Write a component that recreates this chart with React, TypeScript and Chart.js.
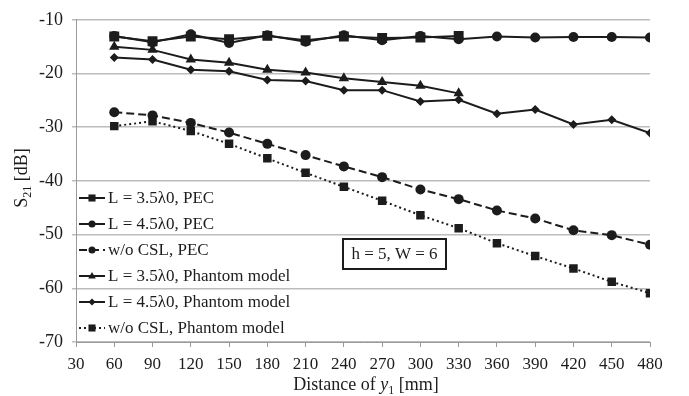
import React, { useEffect, useRef } from "react";
import { Chart, registerables } from "chart.js";
Chart.register(...registerables);

const distShort = [60, 90, 120, 150, 180, 210, 240, 270, 300, 330];
const distLong = [60, 90, 120, 150, 180, 210, 240, 270, 300, 330, 360, 390, 420, 450, 480];
const pecL35 = [-13.1, -14.0, -13.1, -13.6, -13.0, -13.8, -13.1, -13.4, -13.3, -13.0];
const pecL45 = [-13.0, -14.2, -12.7, -14.3, -12.9, -14.1, -12.9, -13.8, -13.0, -13.6, -13.1, -13.3, -13.2, -13.2, -13.3];
const pecNoCsl = [-27.2, -27.8, -29.2, -31.0, -33.1, -35.2, -37.3, -39.3, -41.6, -43.4, -45.5, -47.0, -49.2, -50.1, -51.9];
const phL35 = [-15.0, -15.6, -17.4, -18.0, -19.3, -19.8, -20.9, -21.6, -22.3, -23.7];
const phL45 = [-17.0, -17.4, -19.3, -19.6, -21.2, -21.4, -23.1, -23.1, -25.2, -24.9, -27.5, -26.7, -29.5, -28.6, -31.1];
const phNoCsl = [-29.8, -28.9, -30.7, -33.1, -35.8, -38.5, -41.1, -43.7, -46.4, -48.8, -51.6, -54.0, -56.3, -58.8, -60.9];
const seriesLabels = [
  "L = 3.5λ0, PEC",
  "L = 4.5λ0, PEC",
  "w/o CSL, PEC",
  "L = 3.5λ0, Phantom model",
  "L = 4.5λ0, Phantom model",
  "w/o CSL, Phantom model",
];
const boxText = "h = 5, W = 6";

const SERIF = '"Liberation Serif", "Times New Roman", serif';
const INK = "#1c1c1c";

function pts(xs: number[], ys: number[]) {
  return xs.map((x, i) => ({ x, y: ys[i] }));
}

function drawMarker(ctx: CanvasRenderingContext2D, style: string, x: number, y: number, r: number) {
  ctx.beginPath();
  if (style === "rect") {
    const s = r * Math.SQRT1_2;
    ctx.rect(x - s, y - s, 2 * s, 2 * s);
  } else if (style === "circle") {
    ctx.arc(x, y, r, 0, Math.PI * 2);
  } else if (style === "triangle") {
    ctx.moveTo(x, y - r);
    ctx.lineTo(x + r * 0.95, y + r * 0.6);
    ctx.lineTo(x - r * 0.95, y + r * 0.6);
    ctx.closePath();
  } else if (style === "rectRot") {
    ctx.moveTo(x, y - r);
    ctx.lineTo(x + r, y);
    ctx.lineTo(x, y + r);
    ctx.lineTo(x - r, y);
    ctx.closePath();
  }
  ctx.fill();
}

const overlay = {
  id: "overlay",
  afterDatasetsDraw(chart: any) {
    const ctx: CanvasRenderingContext2D = chart.ctx;
    const ca = chart.chartArea;
    ctx.save();
    // legend
    const legendTop = 198;
    const step = 26;
    chart.data.datasets.forEach((ds: any, i: number) => {
      const y = legendTop + i * step;
      ctx.strokeStyle = INK;
      ctx.fillStyle = INK;
      ctx.lineWidth = 2;
      ctx.setLineDash(ds.borderDash || []);
      ctx.beginPath();
      ctx.moveTo(ca.left + 3, y);
      ctx.lineTo(ca.left + 29, y);
      ctx.stroke();
      ctx.setLineDash([]);
      drawMarker(ctx, ds.pointStyle, ca.left + 16, y, ds.legendRadius);
      ctx.font = `17px ${SERIF}`;
      ctx.textBaseline = "middle";
      ctx.textAlign = "left";
      ctx.fillText(seriesLabels[i], ca.left + 32, y + 1);
    });
    // annotation box
    const bx = 343, by = 239, bw = 103, bh = 30;
    ctx.lineWidth = 2;
    ctx.strokeStyle = INK;
    ctx.fillStyle = "#fff";
    ctx.fillRect(bx, by, bw, bh);
    ctx.strokeRect(bx, by, bw, bh);
    ctx.fillStyle = INK;
    ctx.font = `17px ${SERIF}`;
    ctx.textAlign = "center";
    ctx.textBaseline = "middle";
    ctx.fillText(boxText, bx + bw / 2, by + bh / 2 + 1);

    // y title
    ctx.save();
    ctx.translate(21, 178);
    ctx.rotate(-Math.PI / 2);
    ctx.textBaseline = "alphabetic";
    ctx.textAlign = "left";
    const p1 = "S", p2 = "21", p3 = " [dB]";
    ctx.font = `18px ${SERIF}`;
    const w1 = ctx.measureText(p1).width;
    const w3 = ctx.measureText(p3).width;
    ctx.font = `12px ${SERIF}`;
    const w2 = ctx.measureText(p2).width;
    const tot = w1 + w2 + w3;
    let cx = -tot / 2;
    ctx.font = `18px ${SERIF}`;
    ctx.fillText(p1, cx, 6);
    cx += w1;
    ctx.font = `12px ${SERIF}`;
    ctx.fillText(p2, cx, 10);
    cx += w2;
    ctx.font = `18px ${SERIF}`;
    ctx.fillText(p3, cx, 6);
    ctx.restore();

    // x title
    const xc = (ca.left + ca.right) / 2 + 3;
    const yb = 390;
    const a = "Distance of ", b = "y", c = "1", d = " [mm]";
    ctx.textAlign = "left";
    ctx.textBaseline = "alphabetic";
    ctx.font = `18px ${SERIF}`;
    const wa = ctx.measureText(a).width;
    const wd = ctx.measureText(d).width;
    ctx.font = `italic 18px ${SERIF}`;
    const wb = ctx.measureText(b).width;
    ctx.font = `12px ${SERIF}`;
    const wc = ctx.measureText(c).width;
    let xx = xc - (wa + wb + wc + wd) / 2;
    ctx.font = `18px ${SERIF}`;
    ctx.fillText(a, xx, yb);
    xx += wa;
    ctx.font = `italic 18px ${SERIF}`;
    ctx.fillText(b, xx, yb);
    xx += wb;
    ctx.font = `12px ${SERIF}`;
    ctx.fillText(c, xx, yb + 4);
    xx += wc;
    ctx.font = `18px ${SERIF}`;
    ctx.fillText(d, xx, yb);
    ctx.restore();
  },
};

export default function App() {
  const ref = useRef<HTMLCanvasElement>(null);
  useEffect(() => {
    if (!ref.current) return;
    const common = { borderColor: INK, backgroundColor: INK, pointBackgroundColor: INK, pointBorderColor: INK, borderWidth: 2, pointBorderWidth: 0, fill: false, tension: 0 };
    const chart = new Chart(ref.current, {
      type: "line",
      data: {
        datasets: [
          { ...common, label: seriesLabels[0], data: pts(distShort, pecL35), pointStyle: "rect", pointRadius: 7, legendRadius: 5 } as any,
          { ...common, label: seriesLabels[1], data: pts(distLong, pecL45), pointStyle: "circle", pointRadius: 5, legendRadius: 3.5 } as any,
          { ...common, label: seriesLabels[2], data: pts(distLong, pecNoCsl), pointStyle: "circle", pointRadius: 5, borderDash: [8, 4], legendRadius: 3.5 } as any,
          { ...common, label: seriesLabels[3], data: pts(distShort, phL35), pointStyle: "triangle", pointRadius: 6, legendRadius: 4 } as any,
          { ...common, label: seriesLabels[4], data: pts(distLong, phL45), pointStyle: "rectRot", pointRadius: 4.5, legendRadius: 3.5 } as any,
          { ...common, label: seriesLabels[5], data: pts(distLong, phNoCsl), pointStyle: "rect", pointRadius: 6, borderDash: [2, 3], legendRadius: 5 } as any,
        ],
      },
      options: {
        responsive: false,
        animation: false,
        devicePixelRatio: 1,
        layout: { padding: { top: 11, right: 39, left: 0, bottom: 0 } },
        plugins: { legend: { display: false }, tooltip: { enabled: false } },
        scales: {
          x: {
            type: "linear",
            min: 30,
            max: 480,
            ticks: { stepSize: 30, color: INK, font: { family: SERIF, size: 17 }, padding: 7, maxRotation: 0, autoSkip: false },
            grid: { drawOnChartArea: false, drawTicks: true, tickLength: 5, color: "#9a9a9a" },
            border: { color: "#9a9a9a", width: 1 },
            afterFit: (s: any) => { s.height = 54; },
          },
          y: {
            min: -70,
            max: -10,
            ticks: { stepSize: 10, color: INK, font: { family: SERIF, size: 18 }, padding: 9 },
            grid: { color: "#bcbcbc", tickLength: 4, lineWidth: 1.5 },
            border: { color: "#9a9a9a", width: 1 },
            afterFit: (s: any) => { s.width = 76; },
          },
        },
      } as any,
      plugins: [overlay],
    });
    return () => chart.destroy();
  }, []);
  return (
    <div style={{ position: "fixed", left: 0, top: 0, width: 689, height: 396, background: "#fff" }}>
      <canvas ref={ref} width={689} height={396} />
    </div>
  );
}
